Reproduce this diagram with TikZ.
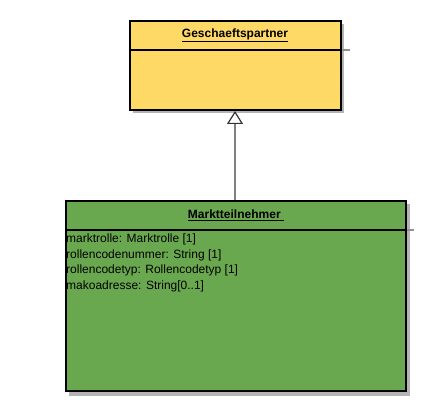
\documentclass[tikz,border=0pt]{standalone}
\usepackage{fontspec}
\setmainfont{Liberation Sans}
\usetikzlibrary{arrows.meta}
\definecolor{gpyellow}{RGB}{255,217,102}
\definecolor{mtgreen}{RGB}{106,168,79}
\definecolor{shadowgray}{RGB}{180,180,180}
\definecolor{linegray}{RGB}{128,128,128}
\begin{document}
\begin{tikzpicture}[x=1pt,y=-1pt,
  classbox/.style={draw=black,line width=2pt,anchor=north west,inner sep=0pt},
  title/.style={font=\fontsize{12}{14}\selectfont\bfseries,anchor=center},
  attr/.style={font=\fontsize{12}{15.4}\selectfont,anchor=north west,inner sep=0pt,align=left},
  gen/.style={draw=linegray,line width=1.8pt,-{Triangle[open,length=13pt,width=16pt,line width=1.2pt,color=black!80,fill=white]}}]
\useasboundingbox (0,0) rectangle (433,411);
% shadows
\fill[shadowgray] (133,24) rectangle (344,113.5);
\fill[shadowgray] (69,204) rectangle (410,395.5);
\draw[shadowgray!80!black,line width=1.2pt] (340,50) -- (350,50);
\draw[shadowgray!80!black,line width=1.2pt] (405,230) -- (414,230);
% boxes
\node[classbox,fill=gpyellow,minimum width=211pt,minimum height=89pt] (gp) at (129,20) {};
\node[classbox,fill=mtgreen,minimum width=340pt,minimum height=190pt] (mt) at (65,200) {};
\draw[line width=2pt] (129,50) -- (340,50);
\draw[line width=2pt] (65,230) -- (405,230);
\node[title] (gpt) at (235,35) {\underline{Geschaeftspartner}};
\node[title] (mtt) at (236,215) {\underline{Marktteilnehmer\ }};
\node[attr] (attrs) at (66,234) {marktrolle: Marktrolle [1]\\
rollencodenummer: String [1]\\
rollencodetyp: Rollencodetyp [1]\\
makoadresse: String[0..1]};
% generalization
\draw[gen] (mt.north -| 235,0) -- (gp.south -| 235,0);
\end{tikzpicture}
\end{document}
